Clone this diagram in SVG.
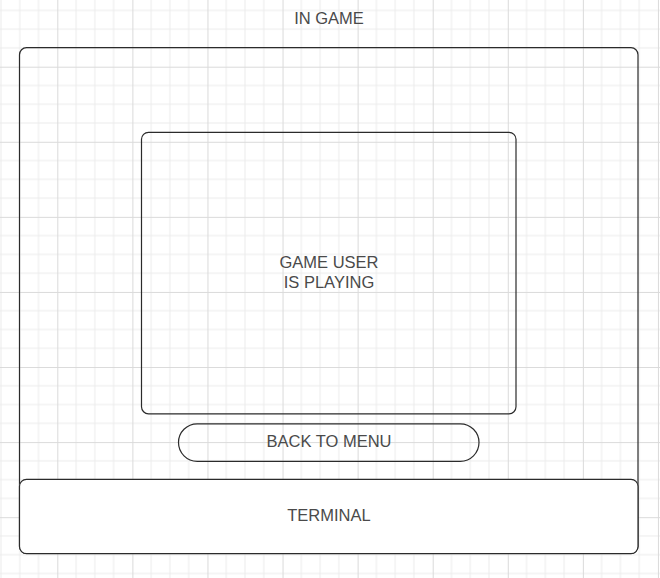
<svg xmlns="http://www.w3.org/2000/svg" width="660" height="578" viewBox="0 0 660 578">
  <defs>
    <pattern id="grid" patternUnits="userSpaceOnUse" x="57.3" y="66.7" width="75.08" height="75.08">
      <path d="M18.77 0V75.08M37.54 0V75.08M56.31 0V75.08M0 18.77H75.08M0 37.54H75.08M0 56.31H75.08" stroke="#ebebeb" stroke-width="1" fill="none"/>
      <path d="M0.5 0V75.08M0 0.5H75.08" stroke="#dadada" stroke-width="1" fill="none"/>
    </pattern>
    <style>
      .box { fill: none; stroke: #2b2b2b; stroke-width: 1.2; }
      .lbl { font-family: "Liberation Sans", Arial, sans-serif; font-size: 16.5px; fill: #4a4a4a; text-anchor: middle; }
    </style>
  </defs>
  <rect width="660" height="578" fill="#ffffff"/>
  <rect width="660" height="578" fill="url(#grid)"/>

  <g id="in-game">
    <rect class="box" x="19.5" y="47.7" width="618.5" height="505.8" rx="7" ry="7"/>
    <text class="lbl" x="329" y="24">IN GAME</text>
  </g>
  <g id="game-user-playing">
    <rect class="box" x="141.5" y="132.3" width="374.5" height="281.5" rx="7" ry="7"/>
    <text class="lbl" x="329" y="267.5">GAME USER</text>
    <text class="lbl" x="329" y="287.5">IS PLAYING</text>
  </g>
  <g id="back-to-menu">
    <rect class="box" x="178.5" y="423.8" width="300.5" height="37.5" rx="18.75" ry="18.75" stroke-width="1"/>
    <text class="lbl" x="329" y="446.5">BACK TO MENU</text>
  </g>
  <g id="terminal">
    <rect class="box" x="19.5" y="479.3" width="618.5" height="74.3" rx="7" ry="7" style="fill:#ffffff"/>
    <text class="lbl" x="329" y="521">TERMINAL</text>
  </g>
  <g id="connectors"/>
</svg>
